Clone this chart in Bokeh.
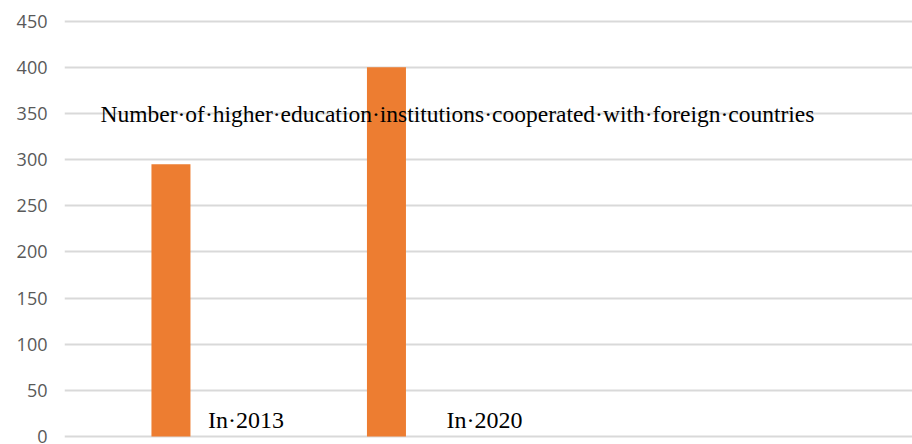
from bokeh.plotting import figure
from bokeh.models import Range1d, ColumnDataSource
from bokeh.core.properties import value
from bokeh.embed import file_html
from bokeh.resources import INLINE

# ---- data ----
categories = ["In·2013", "In·2020"]
counts = [295, 400]
chart_title = "Number·of·higher·education·institutions·cooperated·with·foreign·countries"
y_ticks = [0, 50, 100, 150, 200, 250, 300, 350, 400, 450]

xs = list(range(len(categories)))

src = ColumnDataSource(dict(x=xs, top=counts, label=categories, dx=[37, 60]))

p = figure(
    frame_width=848, frame_height=444,
    min_border_left=64, min_border_right=0, min_border_top=0, min_border_bottom=0,
    x_range=Range1d(-0.494, -0.494 + 848 / 215.5),
    y_range=Range1d(-8.67, 472.4),
    output_backend="svg", toolbar_location=None,
)
p.outline_line_color = None
p.background_fill_color = "white"
p.border_fill_color = "white"

p.vbar(x="x", top="top", width=0.181, bottom=0, source=src,
       fill_color="#ed7d31", line_color=None)

p.text(x="x", y=18, text="label", x_offset="dx", source=src,
       text_font=value("Liberation Serif"), text_font_size="24px",
       text_color="#000000", text_baseline="alphabetic", text_align="left")

p.text(x=[-0.327], y=[349], text=[chart_title],
       text_font=value("Liberation Serif"), text_font_size="23.5px",
       text_color="#000000", text_baseline="alphabetic", text_align="left")

p.xaxis.visible = False
p.xgrid.visible = False
p.yaxis.ticker = y_ticks
p.yaxis.axis_line_color = None
p.yaxis.major_tick_line_color = None
p.yaxis.minor_tick_line_color = None
p.yaxis.major_tick_out = 0
p.yaxis.major_tick_in = 0
p.yaxis.major_label_standoff = 17
p.yaxis.major_label_text_font = "Open Sans"
p.yaxis.major_label_text_font_size = "18px"
p.yaxis.major_label_text_color = "#595959"
p.ygrid.ticker = y_ticks
p.ygrid.grid_line_color = "#d9d9d9"
p.ygrid.grid_line_width = 2

open("out.html", "w").write(file_html(p, INLINE))
